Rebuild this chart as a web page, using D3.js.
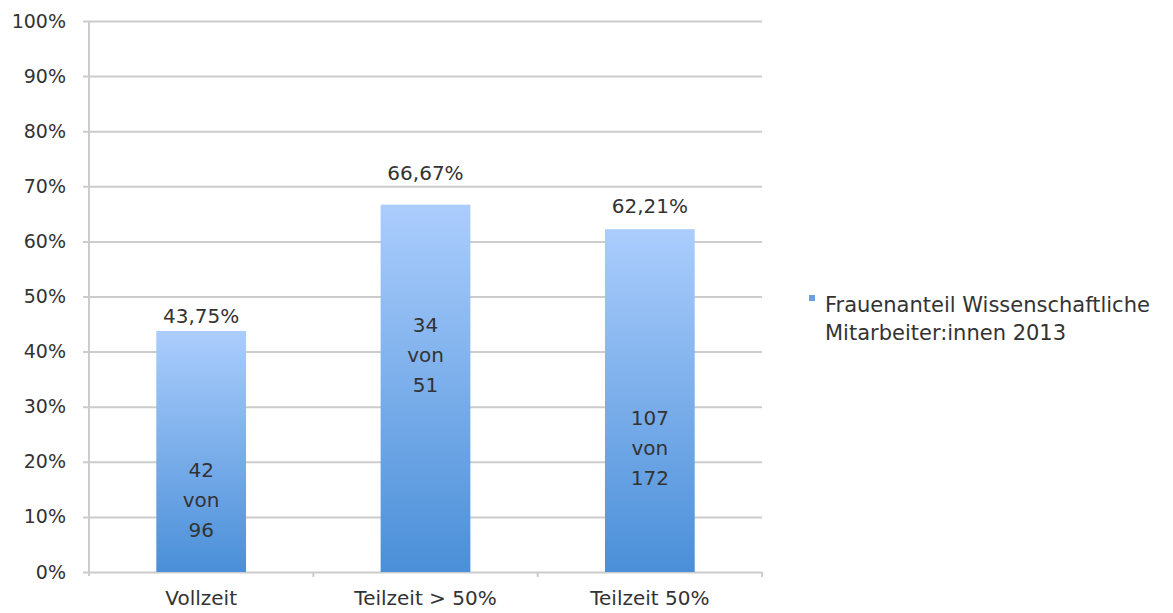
<!DOCTYPE html>
<html>
<head>
<meta charset="utf-8">
<script src="https://cdn.jsdelivr.net/npm/d3@7"></script>
<style>
  html, body { margin: 0; padding: 0; background: #fff; }
  svg text { font-family: "DejaVu Sans", sans-serif; fill: #333; }
</style>
</head>
<body>
<svg id="chart" width="1173" height="613"></svg>
<script>
// Frauenanteil bei den wissenschaftlichen Mitarbeiter:innen 2013
const categories = ["Vollzeit", "Teilzeit > 50%", "Teilzeit 50%"];
const shares = [43.75, 66.67, 62.21];          // percent
const women = [42, 34, 107];
const totals = [96, 51, 172];
const yTicks = [0, 10, 20, 30, 40, 50, 60, 70, 80, 90, 100];
const seriesName = ["Frauenanteil Wissenschaftliche", "Mitarbeiter:innen 2013"];

// label placement (layout only)
const valueLabelGap = [8, 25, 16];             // px above bar top
const countLabelAt = [11.8, 38.1, 21.2];       // percent level of the middle line

const svg = d3.select("#chart");
const m = { left: 89, right: 762, top: 21, bottom: 572 };

const x = d3.scaleBand().domain(categories).range([m.left, m.right])
  .paddingInner(0.6).paddingOuter(0.3);
const xCat = d3.scaleBand().domain(categories).range([m.left, m.right]).padding(0);
const y = d3.scaleLinear().domain([0, 100]).range([m.bottom, m.top]);

const fmt = v => d3.format(".2f")(v).replace(".", ",") + "%";

// gradient for bars
const defs = svg.append("defs");
const grad = defs.append("linearGradient").attr("id", "barGrad")
  .attr("x1", 0).attr("y1", 0).attr("x2", 0).attr("y2", 1);
grad.append("stop").attr("offset", "0%").attr("stop-color", "#abcdfd");
grad.append("stop").attr("offset", "100%").attr("stop-color", "#4a8fd8");

// y axis with gridlines
const yAxis = d3.axisLeft(y).tickValues(yTicks)
  .tickSize(-(m.right - m.left)).tickPadding(23)
  .tickFormat(d => d + "%");
const gy = svg.append("g").attr("transform", `translate(${m.left},0)`).call(yAxis);
gy.select(".domain").remove();
gy.selectAll(".tick line").attr("stroke", "#cccccc").attr("stroke-width", 2)
  .attr("x1", -6);
gy.selectAll(".tick text").attr("font-size", 19).attr("fill", "#333");
svg.append("line").attr("x1", m.left).attr("x2", m.left)
  .attr("y1", m.top).attr("y2", m.bottom + 4)
  .attr("stroke", "#cccccc").attr("stroke-width", 2);

// x axis
const xAxis = d3.axisBottom(xCat).tickSize(0).tickPadding(19);
const gx = svg.append("g").attr("transform", `translate(0,${m.bottom})`).call(xAxis);
gx.select(".domain").remove();
gx.selectAll(".tick text").attr("font-size", 20).attr("fill", "#333");
// category separators
svg.append("g").selectAll("line")
  .data(categories)
  .join("line")
  .attr("x1", d => xCat(d) + xCat.bandwidth()).attr("x2", d => xCat(d) + xCat.bandwidth())
  .attr("y1", m.bottom).attr("y2", m.bottom + 5)
  .attr("stroke", "#cccccc").attr("stroke-width", 2);

// bars
svg.append("g").selectAll("rect")
  .data(categories)
  .join("rect")
  .attr("x", d => x(d))
  .attr("width", x.bandwidth())
  .attr("y", (d, i) => y(shares[i]))
  .attr("height", (d, i) => y(0) - y(shares[i]))
  .attr("fill", "url(#barGrad)");

// value labels
svg.append("g").selectAll("text")
  .data(categories)
  .join("text")
  .attr("x", d => x(d) + x.bandwidth() / 2)
  .attr("y", (d, i) => y(shares[i]) - valueLabelGap[i])
  .attr("text-anchor", "middle")
  .attr("font-size", 20)
  .text((d, i) => fmt(shares[i]));

// counts inside the bars
const counts = svg.append("g").selectAll("text")
  .data(categories)
  .join("text")
  .attr("text-anchor", "middle")
  .attr("font-size", 20)
  .attr("x", d => x(d) + x.bandwidth() / 2)
  .attr("y", (d, i) => y(countLabelAt[i]));
counts.each(function (d, i) {
  const t = d3.select(this);
  const cx = x(d) + x.bandwidth() / 2;
  [String(women[i]), "von", String(totals[i])].forEach((s, k) => {
    t.append("tspan").attr("x", cx).attr("dy", k === 0 ? -30 : 30).text(s);
  });
});

// legend
const lg = svg.append("g").attr("transform", "translate(809,295)");
lg.append("rect").attr("width", 6).attr("height", 6).attr("fill", "#6a9fe0");
lg.selectAll("text")
  .data(seriesName)
  .join("text")
  .attr("x", 16)
  .attr("y", (d, i) => 17 + i * 28)
  .attr("font-size", 21)
  .text(d => d);
</script>
</body>
</html>
